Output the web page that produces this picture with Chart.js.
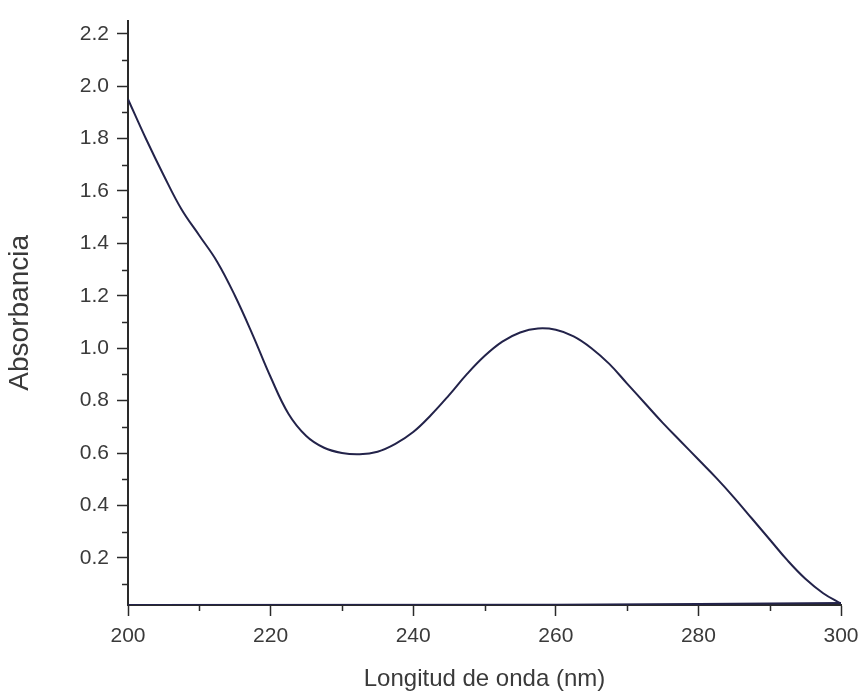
<!DOCTYPE html>
<html>
<head>
<meta charset="utf-8">
<title>Espectro de absorción UV</title>
<script src="https://cdn.jsdelivr.net/npm/chart.js@4.4.1/dist/chart.umd.min.js"></script>
<style>
  html, body { margin: 0; padding: 0; background: #fff; }
  #wrap { width: 867px; height: 698px; }
</style>
</head>
<body>
<div id="wrap"><canvas id="spectrum"></canvas></div>
<script>
// Espectro UV: longitud de onda (nm) vs absorbancia
const wavelengths = [200, 202.5, 205, 207.5, 210, 212.5, 215, 217.5, 220, 222.5, 225, 227.5, 230, 232.5, 235, 237.5, 240, 242.5, 245, 247.5, 250, 252.5, 255, 257.5, 260, 262.5, 265, 267.5, 270, 272.5, 275, 277.5, 280, 282.5, 285, 287.5, 290, 292.5, 295, 297.5, 300];
const absorbance = [1.95, 1.80, 1.66, 1.53, 1.43, 1.33, 1.20, 1.05, 0.89, 0.75, 0.665, 0.62, 0.60, 0.595, 0.605, 0.635, 0.68, 0.745, 0.82, 0.90, 0.97, 1.025, 1.06, 1.075, 1.07, 1.045, 1.00, 0.94, 0.865, 0.79, 0.715, 0.645, 0.575, 0.505, 0.43, 0.35, 0.27, 0.19, 0.12, 0.065, 0.025];

// línea base casi plana junto al eje
const baselineX = [200, 260, 280, 300];
const baselineY = [0.02, 0.021, 0.024, 0.028];

const xTicks = [200, 220, 240, 260, 280, 300];
const yTicks = [0.2, 0.4, 0.6, 0.8, 1.0, 1.2, 1.4, 1.6, 1.8, 2.0, 2.2];
const xMinor = [210, 230, 250, 270, 290];
const yMinor = [0.1, 0.3, 0.5, 0.7, 0.9, 1.1, 1.3, 1.5, 1.7, 1.9, 2.1];

const axisColor = "#2a2a2a";
const textColor = "#3a3a3a";
const font = "'Liberation Sans', Arial, sans-serif";

// short ticks between the labelled ones
const minorTicks = {
  id: "minorTicks",
  afterDraw(chart) {
    const { ctx, scales } = chart;
    ctx.save();
    ctx.strokeStyle = axisColor;
    ctx.lineWidth = 1.5;
    ctx.beginPath();
    for (const v of xMinor) {
      const px = Math.round(scales.x.getPixelForValue(v)) + 0.5;
      ctx.moveTo(px, scales.x.top);
      ctx.lineTo(px, scales.x.top + 6);
    }
    for (const v of yMinor) {
      const py = Math.round(scales.y.getPixelForValue(v)) + 0.5;
      ctx.moveTo(scales.y.right, py);
      ctx.lineTo(scales.y.right - 6, py);
    }
    ctx.stroke();
    ctx.restore();
  },
};

new Chart(document.getElementById("spectrum"), {
  type: "line",
  data: {
    datasets: [
      {
        label: "Absorbancia",
        data: wavelengths.map((x, i) => ({ x, y: absorbance[i] })),
        borderColor: "#23234a",
        borderWidth: 2,
        pointRadius: 0,
        tension: 0.4,
      },
      {
        label: "Línea base",
        data: baselineX.map((x, i) => ({ x, y: baselineY[i] })),
        borderColor: "#23234a",
        borderWidth: 2,
        pointRadius: 0,
        tension: 0,
      },
    ],
  },
  options: {
    responsive: true,
    maintainAspectRatio: false,
    animation: false,
    layout: { padding: { top: 19, right: 26, left: 0, bottom: 0 } },
    plugins: { legend: { display: false }, tooltip: { enabled: false } },
    scales: {
      x: {
        type: "linear",
        min: 200,
        max: 300,
        afterBuildTicks: (scale) => {
          scale.ticks = xTicks.map((value) => ({ value }));
        },
        afterFit: (scale) => {
          scale.height = 93;
        },
        border: { display: true, color: axisColor, width: 2 },
        grid: {
          drawOnChartArea: false,
          drawTicks: true,
          tickLength: 11,
          tickWidth: 1.5,
          tickColor: axisColor,
        },
        ticks: {
          color: textColor,
          font: { family: font, size: 21 },
          padding: 8,
          maxRotation: 0,
        },
        title: {
          display: true,
          text: "Longitud de onda (nm)",
          color: textColor,
          font: { family: font, size: 24 },
          padding: { top: 4 },
        },
      },
      y: {
        type: "linear",
        min: 0.02,
        max: 2.25,
        afterBuildTicks: (scale) => {
          scale.ticks = yTicks.map((value) => ({ value }));
        },
        afterFit: (scale) => {
          scale.width = 128;
        },
        border: { display: true, color: axisColor, width: 2 },
        grid: {
          drawOnChartArea: false,
          drawTicks: true,
          tickLength: 11,
          tickWidth: 1.5,
          tickColor: axisColor,
        },
        ticks: {
          color: textColor,
          font: { family: font, size: 21 },
          padding: 8,
          callback: (v) => Number(v).toFixed(1),
        },
        title: {
          display: true,
          text: "Absorbancia",
          color: textColor,
          font: { family: font, size: 28 },
          padding: { top: 3, bottom: 0 },
        },
      },
    },
  },
  plugins: [minorTicks],
});
</script>
</body>
</html>
